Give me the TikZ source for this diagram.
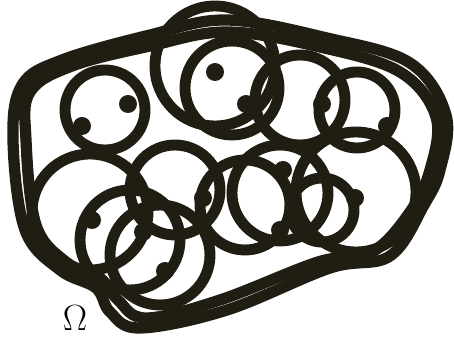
\documentclass[tikz,border=0pt]{standalone}
\usepackage{tikz}
\usetikzlibrary{calc}

\begin{document}
\begin{tikzpicture}[x=0.02cm, y=-0.02cm,
  ball/.style={draw=ink, line width=6.2pt},
  rim/.style={draw=ink, line width=6.4pt, line join=round},
  pt/.style={fill=ink}
]
\definecolor{ink}{HTML}{201D12}
\useasboundingbox (0,0) rectangle (454,344);

% outer domain, drawn twice
\draw[rim] plot[smooth cycle, tension=0.6] coordinates {(13,140) (22,85) (62,60) (150,35) (227,20) (327,38) (410,63) (446,115) (440,170) (424,205) (390,256) (330,268) (227,310) (140,328) (110,312) (96,288) (60,270) (25,230)};
\draw[rim] plot[smooth cycle, tension=0.6] coordinates {(26,140) (30,92) (72,66) (150,46) (227,32) (320,47) (400,72) (436,117) (430,170) (410,212) (372,252) (318,262) (220,300) (146,318) (118,300) (100,278) (66,262) (36,225)};

% balls
\foreach \cx/\cy/\r in {105/110/40, 215/66/60, 232/88/47, 300/100/45, 357/110/38,
                         356/192/60, 280/193/48, 322/210/32, 90/212/58, 130/240/50,
                         160/255/50, 175/190/45, 245/205/45}
  \draw[ball] (\cx,\cy) circle [radius=\r];

% points
\foreach \px/\py in {215/72, 128/104, 82/126, 246/104, 322/104, 387/126, 92/220,
                     143/232, 165/271, 203/198, 283/170, 355/198, 280/230}
  \fill[pt] (\px,\py) circle [radius=9];

\node[font=\fontsize{21}{24}\selectfont] (omega) at (75,318) {$\Omega$};

\end{tikzpicture}
\end{document}
